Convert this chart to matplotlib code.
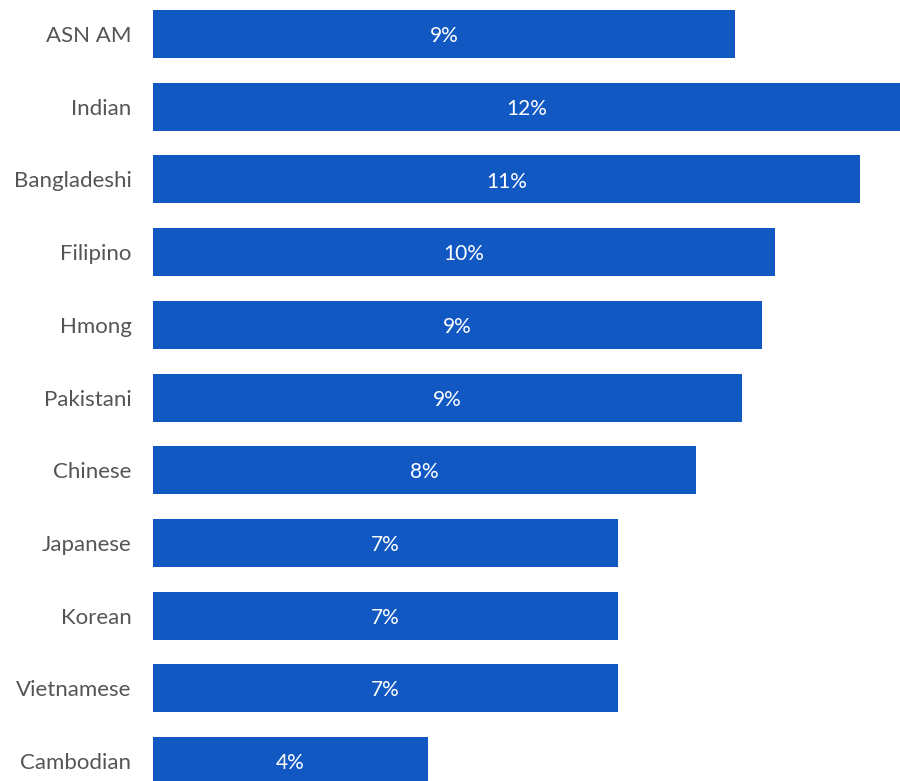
import matplotlib.pyplot as plt

groups = ['ASN AM', 'Indian', 'Bangladeshi', 'Filipino', 'Hmong', 'Pakistani',
          'Chinese', 'Japanese', 'Korean', 'Vietnamese', 'Cambodian']
values = [9.35, 12.0, 11.36, 9.99, 9.78, 9.46, 8.72, 7.47, 7.47, 7.47, 4.42]
labels = ['9%', '12%', '11%', '10%', '9%', '9%', '8%', '7%', '7%', '7%', '4%']

plt.rcParams['font.family'] = ['Lato', 'DejaVu Sans']

fig = plt.figure(figsize=(9, 7.81), dpi=100)
ax = fig.add_axes([153 / 900, 0, 1 - 153 / 900, 1])

pos = list(range(len(groups)))
ax.barh(pos, values, height=0.66, color='#1158c3')

for p, v, lab in zip(pos, values, labels):
    ax.text(v / 2, p + 0.03, lab, ha='center', va='center', color='white', fontsize=15)

ax.set_xlim(0, max(values))
ax.set_ylim(10.275, -0.468)
ax.set_yticks(pos)
ax.set_yticklabels(groups, fontsize=16, color='#555555')
ax.tick_params(axis='y', length=0, pad=15.5)
ax.set_xticks([])
for s in ax.spines.values():
    s.set_visible(False)

fig.savefig('out.png', dpi=100)
